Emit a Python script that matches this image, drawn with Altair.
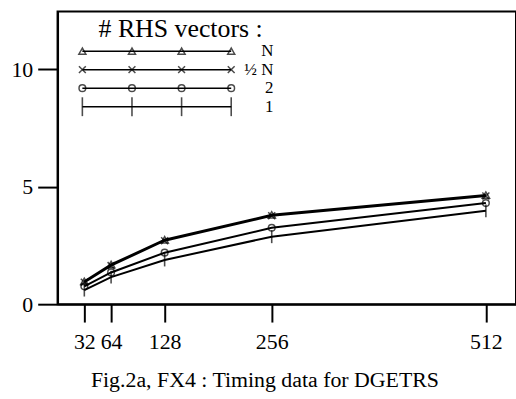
import altair as alt
import pandas as pd

# ---- data ----
sizes = [32, 64, 128, 256, 512]
rhs_N = [0.97, 1.69, 2.74, 3.80, 4.64]
rhs_halfN = [0.93, 1.64, 2.70, 3.76, 4.60]
rhs_2 = [0.76, 1.35, 2.19, 3.25, 4.30]
rhs_1 = [0.60, 1.15, 1.88, 2.87, 3.97]
series_names = ["N", "½ N", "2", "1"]
x_ticks = [32, 64, 128, 256, 512]
y_ticks = [0, 5, 10]
title_text = "Fig.2a, FX4 : Timing data for DGETRS"
legend_title = "# RHS vectors :"

FONT = "Liberation Serif"

rows = []
for name, vals in zip(series_names, [rhs_N, rhs_halfN, rhs_2, rhs_1]):
    for s, v in zip(sizes, vals):
        rows.append({"series": name, "n": s, "t": v})
df = pd.DataFrame(rows)

sym_names = series_names[:3]
shape_scale = alt.Scale(domain=sym_names,
                        range=["triangle-up", "M-1,-1L1,1M-1,1L1,-1", "circle"])

xs = alt.Scale(domain=[0, 548], nice=False, zero=False)
ys = alt.Scale(domain=[0, 12.45], nice=False)

base = alt.Chart(df)
lines = base.mark_line(color="black", strokeWidth=2).encode(
    x=alt.X("n:Q", scale=xs, axis=alt.Axis(values=x_ticks, title=None, tickSize=18,
                                           labelPadding=10, labelFlush=False)),
    y=alt.Y("t:Q", scale=ys, axis=alt.Axis(values=y_ticks, title=None, tickSize=20,
                                           labelPadding=5)),
    detail="series:N",
)
points = base.transform_filter(alt.FieldOneOfPredicate(field="series", oneOf=sym_names)).mark_point(
    color="black", filled=False, strokeWidth=1.5).encode(
    x=alt.X("n:Q", scale=xs),
    y=alt.Y("t:Q", scale=ys),
    shape=alt.Shape("series:N", scale=shape_scale, legend=None),
    size=alt.Size("series:N", scale=alt.Scale(domain=sym_names, range=[55, 45, 12]), legend=None),
)
ticks = base.transform_filter(alt.datum.series == "1").mark_tick(
    color="black", orient="vertical", size=13, thickness=1.6).encode(
    x=alt.X("n:Q", scale=xs),
    y=alt.Y("t:Q", scale=ys),
)
main = alt.layer(lines, points, ticks)

# ---- hand-drawn style legend in the upper left ----
leg_rows = []
for k, name in enumerate(series_names):
    for i in range(4):
        leg_rows.append({"series": name, "row": k, "i": i})
leg_df = pd.DataFrame(leg_rows)
lx = alt.Scale(domain=[0, 3], range=[25, 175])
ly = alt.Scale(domain=[0, 3], range=[40, 96])

leg_base = alt.Chart(leg_df)
leg_lines = leg_base.mark_line(color="black", strokeWidth=1.5).encode(
    x=alt.X("i:Q", scale=lx, axis=None),
    y=alt.Y("row:Q", scale=ly, axis=None),
    detail="series:N",
)
leg_points = leg_base.transform_filter(alt.FieldOneOfPredicate(field="series", oneOf=sym_names)).mark_point(
    color="black", filled=False, strokeWidth=1.5).encode(
    x=alt.X("i:Q", scale=lx, axis=None),
    y=alt.Y("row:Q", scale=ly, axis=None),
    shape=alt.Shape("series:N", scale=shape_scale, legend=None),
    size=alt.Size("series:N", scale=alt.Scale(domain=sym_names, range=[50, 45, 14]), legend=None),
)
leg_ticks = leg_base.transform_filter(alt.datum.series == "1").mark_tick(
    color="black", orient="vertical", size=19, thickness=1.6).encode(
    x=alt.X("i:Q", scale=lx, axis=None),
    y=alt.Y("row:Q", scale=ly, axis=None),
)
lab_df = pd.DataFrame({"series": series_names, "row": [0, 1, 2, 3], "i": [3.85] * 4})
leg_labels = alt.Chart(lab_df).mark_text(font=FONT, fontSize=17, align="right",
                                         baseline="middle", color="black").encode(
    x=alt.X("i:Q", scale=lx, axis=None),
    y=alt.Y("row:Q", scale=ly, axis=None),
    text="series:N",
)
head_df = pd.DataFrame({"label": [legend_title], "i": [1.98], "row": [-1.17]})
leg_head = alt.Chart(head_df).mark_text(font=FONT, fontSize=26, align="center",
                                        baseline="middle", color="black").encode(
    x=alt.X("i:Q", scale=lx, axis=None),
    y=alt.Y("row:Q", scale=ly, axis=None),
    text="label:N",
)
legend = alt.layer(leg_lines, leg_points, leg_ticks, leg_labels, leg_head)

chart = alt.layer(main, legend).resolve_scale(
    x="independent", y="independent", shape="independent", size="independent"
).properties(
    width=462,
    height=295,
    padding={"left": 58, "top": 10, "right": 0, "bottom": 94},
    autosize=alt.AutoSizeParams(type="none"),
    background="white",
    title=alt.TitleParams(title_text, orient="bottom", font=FONT, fontSize=22,
                          fontWeight="normal", color="black", anchor="middle",
                          dx=-22, offset=17),
).configure_view(
    stroke="black", strokeWidth=2
).configure_axis(
    domainColor="black", domainWidth=2, tickColor="black", tickWidth=2,
    labelFont=FONT, labelFontSize=22, labelColor="black", grid=False,
)

chart.save("out.html", embed_options={"renderer": "svg", "actions": False})
